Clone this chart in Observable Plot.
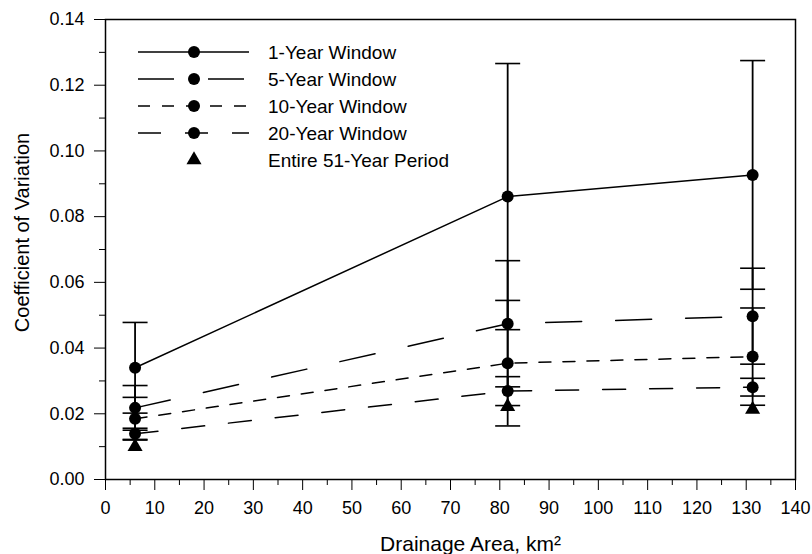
<!DOCTYPE html>
<html>
<head>
<meta charset="utf-8">
<script src="https://cdn.jsdelivr.net/npm/d3@7"></script>
<script src="https://cdn.jsdelivr.net/npm/@observablehq/plot@0.6"></script>
<style>
  html, body { margin: 0; padding: 0; background: #fff; }
  #chart svg { display: block; }
</style>
</head>
<body>
<div id="chart"></div>
<script>
// Drainage areas (km²) of the three watersheds
const areas = [6.0, 81.6, 131.3];

// Mean coefficient of variation for each moving window, with ± one standard deviation
const series = ["1-Year Window", "5-Year Window", "10-Year Window", "20-Year Window"];
const cv1 = [0.0340, 0.0861, 0.0927];
const sd1 = [0.0138, 0.0405, 0.0348];
const cv5 = [0.0218, 0.0474, 0.0497];
const sd5 = [0.0068, 0.0192, 0.0146];
const cv10 = [0.0185, 0.0354, 0.0374];
const sd10 = [0.0065, 0.0191, 0.0148];
const cv20 = [0.0139, 0.0269, 0.0281];
const sd20 = [0.0017, 0.0044, 0.0027];

// Coefficient of variation over the entire record
const entireLabel = "Entire 51-Year Period";
const cvEntire = [0.0100, 0.0222, 0.0213];

// Axis ticks
const xTicks = [0, 10, 20, 30, 40, 50, 60, 70, 80, 90, 100, 110, 120, 130, 140];
const xMinor = [5, 15, 25, 35, 45, 55, 65, 75, 85, 95, 105, 115, 125, 135];
const yTicks = [0, 0.02, 0.04, 0.06, 0.08, 0.10, 0.12, 0.14];
const yMinor = [0.01, 0.03, 0.05, 0.07, 0.09, 0.11, 0.13];

// Line dash pattern per window
const dashes = ["none", "36,34", "12,12", "23,24"];

const means = [cv1, cv5, cv10, cv20];
const sds = [sd1, sd5, sd10, sd20];

const rows = series.flatMap((s, i) =>
  areas.map((a, j) => ({
    series: s,
    area: a,
    cv: means[i][j],
    lo: means[i][j] - sds[i][j],
    hi: means[i][j] + sds[i][j]
  }))
);
const caps = rows.flatMap(d => [{area: d.area, y: d.lo}, {area: d.area, y: d.hi}]);
const entire = areas.map((a, j) => ({area: a, cv: cvEntire[j]}));

// Horizontal bar used as the error-bar cap
const capSymbol = {
  draw(ctx, size) {
    const w = Math.sqrt(size / Math.PI);
    ctx.moveTo(-w, 0);
    ctx.lineTo(w, 0);
  }
};

const font = "'Liberation Sans', Arial, Helvetica, sans-serif";

const plot = Plot.plot({
  width: 812,
  height: 554,
  marginLeft: 105,
  marginRight: 17,
  marginTop: 19,
  marginBottom: 75,
  style: {fontFamily: font, fontSize: "18px", color: "#000", background: "#fff"},
  x: {domain: [0, 140]},
  y: {domain: [0, 0.14]},
  marks: [
    // error bars
    Plot.ruleX(rows, {x: "area", y1: "lo", y2: "hi", stroke: "#000", strokeWidth: 1.8}),
    Plot.dot(caps, {x: "area", y: "y", symbol: capSymbol, r: 12.5, stroke: "#000", strokeWidth: 1.6, fill: "none"}),
    // connecting lines, one per window
    ...series.map((s, i) =>
      Plot.line(rows.filter(d => d.series === s), {
        x: "area", y: "cv", stroke: "#000", strokeWidth: 1.5,
        strokeDasharray: dashes[i] === "none" ? null : dashes[i]
      })
    ),
    Plot.dot(rows, {x: "area", y: "cv", r: 6, fill: "#000"}),
    Plot.dot(entire, {x: "area", y: "cv", symbol: "triangle", r: 5.6, fill: "#000"}),
    // axes
    Plot.axisX(xTicks, {tickSize: 11, tickPadding: 11, label: null, fontSize: 18}),
    Plot.axisX(xMinor, {tickSize: 6, tickFormat: () => "", label: null}),
    Plot.axisY(yTicks, {tickSize: 11, tickPadding: 10, tickFormat: ".2f", label: null, fontSize: 18}),
    Plot.axisY(yMinor, {tickSize: 6, tickFormat: () => "", label: null}),
    Plot.frame({stroke: "#000", strokeWidth: 1.5}),
    // axis titles
    Plot.text(["Drainage Area, km²"], {frameAnchor: "bottom", lineAnchor: "bottom", dx: 20, dy: 71, fontSize: 21}),
    Plot.text(["Coefficient of Variation"], {frameAnchor: "left", textAnchor: "middle", rotate: -90, dx: -83, dy: -17, fontSize: 20})
  ]
});

document.getElementById("chart").appendChild(plot);

// Legend drawn in the upper-left of the plot area
const svg = d3.select(plot);
const legend = svg.append("g")
  .attr("font-family", font)
  .attr("font-size", 19)
  .attr("text-anchor", "start");
const rowY = i => 52 + 27 * i;
series.forEach((s, i) => {
  const g = legend.append("g").attr("transform", `translate(0,${rowY(i)})`);
  g.append("line")
    .attr("x1", 138).attr("x2", 249).attr("y1", 0).attr("y2", 0)
    .attr("stroke", "#000").attr("stroke-width", 1.5)
    .attr("stroke-dasharray", dashes[i] === "none" ? null : dashes[i]);
  g.append("circle").attr("cx", 194).attr("cy", 0).attr("r", 6).attr("fill", "#000");
  g.append("text").attr("x", 268).attr("y", 0).attr("dy", "0.35em").text(s);
});
{
  const g = legend.append("g").attr("transform", `translate(0,${rowY(4)})`);
  g.append("path").attr("transform", "translate(194,0)")
    .attr("d", d3.symbol(d3.symbolTriangle, Math.PI * 5.6 * 5.6)()).attr("fill", "#000");
  g.append("text").attr("x", 268).attr("y", 0).attr("dy", "0.35em").text(entireLabel);
}
</script>
</body>
</html>
